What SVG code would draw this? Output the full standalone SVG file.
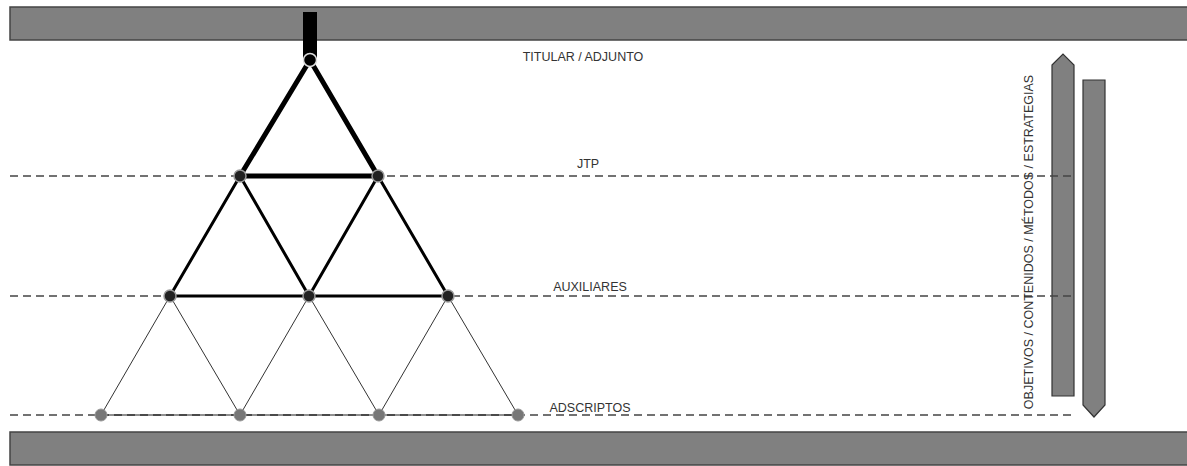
<svg xmlns="http://www.w3.org/2000/svg" width="1187" height="466" viewBox="0 0 1187 466">
<style>
.bar{fill:#808080;stroke:#444;stroke-width:1.5}
.dash{stroke:#444;stroke-width:1.6;stroke-dasharray:8,5;fill:none}
.lbl{font-family:"Liberation Sans",Arial,sans-serif;font-size:12.5px;fill:#333;text-anchor:middle}
.l1{stroke:#000;stroke-width:5;stroke-linecap:round}
.l2{stroke:#000;stroke-width:3;stroke-linecap:round}
.l3{stroke:#333;stroke-width:1}
.n1{fill:#000;stroke:#ddd;stroke-width:1.5}
.n2{fill:#222;stroke:#999;stroke-width:1.5}
.n3{fill:#777;stroke:#999;stroke-width:1}
.arr{fill:#808080;stroke:#333;stroke-width:1.2}
</style>
<rect width="1187" height="466" fill="#fff"/>
<g id="top-bar"><rect class="bar" x="10" y="7" width="1180" height="33"/></g>
<g id="bottom-bar"><rect class="bar" x="10" y="432" width="1180" height="33"/></g>
<g id="arrow-up"><polygon class="arr" points="1052,65 1063,54 1074,65 1074,396 1052,396"/></g>
<g id="arrow-down"><polygon class="arr" points="1083,80 1105,80 1105,405 1094,417 1083,405"/></g>
<g id="levels">
<line class="dash" x1="10" y1="176" x2="1076" y2="176"/>
<line class="dash" x1="10" y1="296" x2="1076" y2="296"/>
<line class="dash" x1="10" y1="415" x2="1076" y2="415"/>
</g>
<g id="connectors">
<rect x="303" y="12" width="14" height="46" fill="#000"/>
<line class="l1" x1="310" y1="60" x2="240" y2="176"/>
<line class="l1" x1="310" y1="60" x2="378" y2="176"/>
<line class="l1" x1="240" y1="176" x2="378" y2="176"/>
<line class="l2" x1="240" y1="176" x2="170" y2="296"/>
<line class="l2" x1="240" y1="176" x2="309" y2="296"/>
<line class="l2" x1="378" y1="176" x2="309" y2="296"/>
<line class="l2" x1="378" y1="176" x2="448" y2="296"/>
<line class="l2" x1="170" y1="296" x2="448" y2="296"/>
<line class="l3" x1="170" y1="296" x2="101" y2="415"/>
<line class="l3" x1="170" y1="296" x2="240" y2="415"/>
<line class="l3" x1="309" y1="296" x2="240" y2="415"/>
<line class="l3" x1="309" y1="296" x2="379" y2="415"/>
<line class="l3" x1="448" y1="296" x2="379" y2="415"/>
<line class="l3" x1="448" y1="296" x2="518" y2="415"/>
<line x1="101" y1="415" x2="518" y2="415" stroke="#222" stroke-width="1.2"/>
</g>
<g id="titular"><circle class="n1" cx="310" cy="60" r="6.5"/></g>
<g id="jtp1"><circle class="n2" cx="240" cy="176" r="6"/></g>
<g id="jtp2"><circle class="n2" cx="378" cy="176" r="6"/></g>
<g id="aux1"><circle class="n2" cx="170" cy="296" r="6"/></g>
<g id="aux2"><circle class="n2" cx="309" cy="296" r="6"/></g>
<g id="aux3"><circle class="n2" cx="448" cy="296" r="6"/></g>
<g id="ads1"><circle class="n3" cx="101" cy="415" r="6"/></g>
<g id="ads2"><circle class="n3" cx="240" cy="415" r="6"/></g>
<g id="ads3"><circle class="n3" cx="379" cy="415" r="6"/></g>
<g id="ads4"><circle class="n3" cx="518" cy="415" r="6"/></g>
<g id="labels">
<text class="lbl" x="583" y="61">TITULAR / ADJUNTO</text>
<text class="lbl" x="588" y="168">JTP</text>
<text class="lbl" x="590" y="291">AUXILIARES</text>
<text class="lbl" x="590" y="412">ADSCRIPTOS</text>
</g>
<g id="side-label"><text class="lbl" transform="translate(1033,242) rotate(-90)">OBJETIVOS / CONTENIDOS / MÉTODOS / ESTRATEGIAS</text></g>
</svg>
